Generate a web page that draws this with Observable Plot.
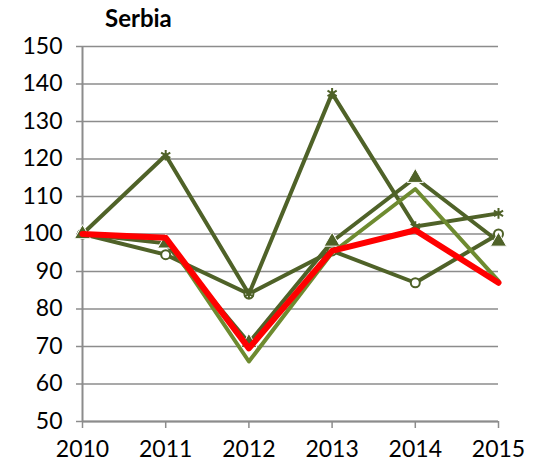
<!DOCTYPE html>
<html>
<head>
<meta charset="utf-8">
<script src="https://cdn.jsdelivr.net/npm/d3@7"></script>
<script src="https://cdn.jsdelivr.net/npm/@observablehq/plot@0.6"></script>
<style>
  html, body { margin: 0; padding: 0; background: #fff; }
  #wrap { position: relative; width: 540px; height: 466px; }
  #title { position: absolute; left: 105px; top: 3px; font: bold 24px Lato, "Open Sans", sans-serif; color: #000; }
</style>
</head>
<body>
<div id="wrap">
  <div id="title">Serbia</div>
  <div id="chart"></div>
</div>
<script>
const years = [2010, 2011, 2012, 2013, 2014, 2015];
const starSeries = [100, 121, 84, 137.5, 102, 105.5];
const triangleSeries = [100, 97.5, 71, 98, 115, 98];
const circleSeries = [100, 94.5, 84, 95.5, 87, 100];
const plainSeries = [100, 99, 66, 95, 112, 87.5];
const redSeries = [100, 99, 69.5, 95.5, 101, 87];
const yTicks = [50, 60, 70, 80, 90, 100, 110, 120, 130, 140, 150];

const dark = "#4F6228";
const light = "#6E8B30";
const toRows = (vals) => years.map((y, i) => ({year: y, value: vals[i]}));
const star = toRows(starSeries), tri = toRows(triangleSeries), circ = toRows(circleSeries),
      plain = toRows(plainSeries), red = toRows(redSeries);

const chart = Plot.plot({
  width: 540,
  height: 466,
  marginLeft: 82,
  marginRight: 42,
  marginTop: 46,
  marginBottom: 45,
  style: {fontFamily: "Lato, 'Open Sans', sans-serif", fontSize: "23px", color: "#000", background: "#fff"},
  x: {type: "linear", domain: [2010, 2015], ticks: years, tickFormat: "d", label: null},
  y: {type: "linear", domain: [50, 150], ticks: yTicks, label: null},
  marks: [
    Plot.ruleY(yTicks, {y: d => d, x1: 2010, x2: 2015, stroke: "#8c8c8c", strokeWidth: 1.5}),
    Plot.axisY({ticks: yTicks, tickSize: 6, tickPadding: 14, stroke: "#8c8c8c", strokeWidth: 1.5, fontSize: 23, fill: "#000", label: null}),
    Plot.axisX({ticks: years, tickFormat: "d", tickSize: 7, tickPadding: 12, stroke: "#8c8c8c", strokeWidth: 1.5, fontSize: 23, fill: "#000", label: null}),
    Plot.ruleX([2010], {stroke: "#8c8c8c", strokeWidth: 2}),
    Plot.ruleY([50], {stroke: "#8c8c8c", strokeWidth: 2}),
    Plot.line(circ, {x: "year", y: "value", stroke: dark, strokeWidth: 4}),
    Plot.dot(circ, {x: "year", y: "value", symbol: "circle", r: 4.5, fill: "#fff", stroke: dark, strokeWidth: 2}),
    Plot.line(star, {x: "year", y: "value", stroke: dark, strokeWidth: 4}),
    Plot.dot(star, {x: "year", y: "value", symbol: "asterisk", r: 5, stroke: dark, strokeWidth: 2}),
    Plot.line(tri, {x: "year", y: "value", stroke: dark, strokeWidth: 4}),
    Plot.dot(tri, {x: "year", y: "value", symbol: "triangle", r: 6, fill: dark, stroke: "#fff", strokeWidth: 1}),
    Plot.line(plain, {x: "year", y: "value", stroke: light, strokeWidth: 4}),
    Plot.line(red, {x: "year", y: "value", stroke: "#FF0000", strokeWidth: 6})
  ]
});
document.getElementById("chart").appendChild(chart);
</script>
</body>
</html>
